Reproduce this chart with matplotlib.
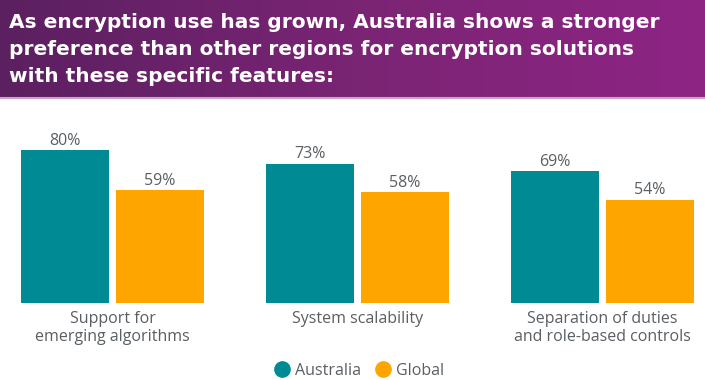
import numpy as np
import matplotlib.pyplot as plt
from matplotlib.lines import Line2D
from matplotlib.colors import LinearSegmentedColormap

categories = ["Support for\nemerging algorithms", "System scalability",
              "Separation of duties\nand role-based controls"]
australia = [80, 73, 69]
global_vals = [59, 58, 54]
series_names = ["Australia", "Global"]
title = ("As encryption use has grown, Australia shows a stronger\n"
         "preference than other regions for encryption solutions\n"
         "with these specific features:")

teal = "#008b94"
orange = "#ffa500"
grey = "#5a5f63"

plt.rcParams['font.family'] = ['Open Sans', 'DejaVu Sans']

W, H = 705, 380
fig = plt.figure(figsize=(W / 100, H / 100), dpi=100)
fig.patch.set_facecolor("white")

# header band with purple gradient
hax = fig.add_axes([0, 1 - 97 / H, 1, 97 / H])
grad = np.linspace(0, 1, 256).reshape(1, -1)
cmap = LinearSegmentedColormap.from_list("hdr", ["#5b2060", "#7a2474", "#8e2584"])
hax.imshow(grad, aspect="auto", cmap=cmap, extent=[0, 1, 0, 1])
hax.set_xlim(0, 1)
hax.set_ylim(0, 1)
hax.axis("off")
hax.text(9 / W, 1 - 49.5 / 97, title, color="white", fontsize=14.5, fontweight="bold",
         family=["DejaVu Sans"], va="center", ha="left", linespacing=1.56,
         transform=hax.transAxes)
fig.add_artist(Line2D([0, 1], [1 - 98 / H, 1 - 98 / H], color="#c9a3c9", lw=1.5))

# bar chart
x = np.arange(len(categories))
spacing = 245.0
width = 88 / spacing
off = (88 + 7) / 2 / spacing
ax = fig.add_axes([0, (H - 303) / H, 1, 191 / H])
ax.set_xlim(-112.5 / spacing, (W - 112.5) / spacing)
ax.set_ylim(0, 100)
b1 = ax.bar(x - off, australia, width, color=teal)
b2 = ax.bar(x + off, global_vals, width, color=orange)
for bars in (b1, b2):
    for b in bars:
        ax.annotate(f"{b.get_height():.0f}%", (b.get_x() + b.get_width() / 2, b.get_height()),
                    xytext=(0, 1), textcoords="offset points", ha="center", va="bottom",
                    fontsize=11.5, color=grey)
ax.set_xticks(x)
ax.set_xticklabels(categories, fontsize=11.5, color=grey, linespacing=1.1, va="top")
ax.tick_params(axis="x", length=0, pad=6)
ax.set_yticks([])
for s in ax.spines.values():
    s.set_visible(False)

handles = [Line2D([], [], marker="o", ls="none", color=teal, markersize=11),
           Line2D([], [], marker="o", ls="none", color=orange, markersize=11)]
fig.legend(handles, series_names, loc="center", bbox_to_anchor=(359 / W, 1 - 371 / H),
           ncol=2, frameon=False, fontsize=11.5, labelcolor=grey, handletextpad=0.3,
           columnspacing=0.9, handlelength=1.0)

fig.savefig("out.png", dpi=100)
